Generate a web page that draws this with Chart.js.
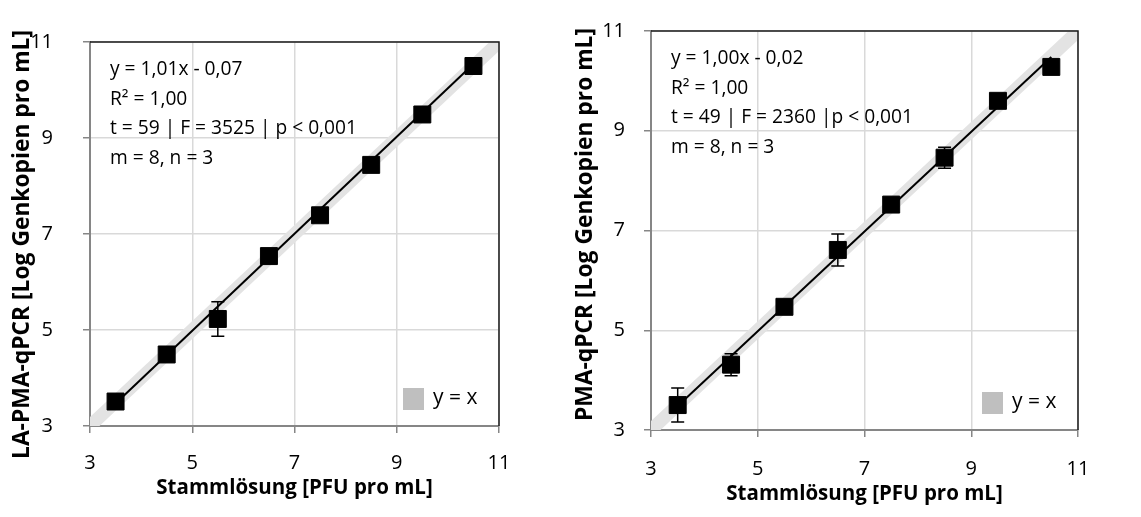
<!DOCTYPE html>
<html>
<head>
<meta charset="utf-8">
<script src="https://cdn.jsdelivr.net/npm/chart.js@4.4.1/dist/chart.umd.min.js"></script>
<style>
  body { margin: 0; background: #fff; width: 1141px; height: 517px; overflow: hidden; position: relative; }
  canvas { position: absolute; top: 0; }
  #laPmaChart { left: 0; }
  #pmaChart { left: 570px; }
</style>
</head>
<body>
<canvas id="laPmaChart" width="570" height="517"></canvas>
<canvas id="pmaChart" width="571" height="517"></canvas>
<script>
// Stammlösung log PFU per mL (x)
const stockLevels = [3.5, 4.5, 5.5, 6.5, 7.5, 8.5, 9.5, 10.5];

// LA-PMA-qPCR means and SD (log gene copies per mL)
const laPmaMeans = [3.51, 4.49, 5.23, 6.54, 7.39, 8.44, 9.49, 10.50];
const laPmaErrors = [0.05, 0.03, 0.36, 0.12, 0.04, 0.05, 0.03, 0.03];

// PMA-qPCR means and SD
const pmaMeans = [3.50, 4.31, 5.47, 6.61, 7.52, 8.46, 9.60, 10.28];
const pmaErrors = [0.34, 0.22, 0.04, 0.32, 0.05, 0.21, 0.04, 0.04];

// trendline end points (first and last stock level)
const laPmaTrend = [3.47, 10.54];
const pmaTrend = [3.48, 10.48];

// y = x reference
const identityLine = [3, 11];
const tickValues = [3, 5, 7, 9, 11];

const laPmaStats = ["y = 1,01x - 0,07", "R² = 1,00", "t = 59 | F = 3525 | p < 0,001", "m = 8, n = 3"];
const pmaStats = ["y = 1,00x - 0,02", "R² = 1,00", "t = 49 | F = 2360 |p < 0,001", "m = 8, n = 3"];

const FONT = "'Open Sans', sans-serif";

const decorPlugin = {
  id: "decor",
  afterDatasetsDraw(chart, args, opts) {
    const { ctx, scales: { x, y } } = chart;
    // error bars
    ctx.save();
    ctx.strokeStyle = "#000";
    ctx.lineWidth = 1.5;
    opts.means.forEach((m, i) => {
      const px = x.getPixelForValue(stockLevels[i]);
      const top = y.getPixelForValue(m + opts.errors[i]);
      const bot = y.getPixelForValue(m - opts.errors[i]);
      ctx.beginPath();
      ctx.moveTo(px, top); ctx.lineTo(px, bot);
      ctx.moveTo(px - 6.5, top); ctx.lineTo(px + 6.5, top);
      ctx.moveTo(px - 6.5, bot); ctx.lineTo(px + 6.5, bot);
      ctx.stroke();
    });
    ctx.restore();
  },
  afterDraw(chart, args, opts) {
    const { ctx, chartArea: a } = chart;
    ctx.save();
    // top and right frame
    ctx.strokeStyle = "#1a1a1a";
    ctx.lineWidth = 1.5;
    ctx.beginPath();
    ctx.moveTo(a.left, a.top); ctx.lineTo(a.right, a.top); ctx.lineTo(a.right, a.bottom);
    ctx.stroke();

    // statistics text
    ctx.fillStyle = "#000";
    ctx.font = "19.2px " + FONT;
    ctx.textBaseline = "middle";
    ctx.textAlign = "left";
    opts.stats.forEach((line, i) => {
      ctx.fillText(line, a.left + opts.statsDx, a.top + 28 + i * 29.5);
    });

    // legend for y = x
    const band = chart.data.datasets[0];
    ctx.fillStyle = "#bfbfbf";
    ctx.fillRect(a.right - 96, a.bottom - 38, 21, 22);
    ctx.fillStyle = "#000";
    ctx.font = "21px " + FONT;
    ctx.fillText(band.label, a.right - 66, a.bottom - 28);

    // y axis title
    ctx.font = "bold 22.8px " + FONT;
    ctx.translate(opts.titleX, opts.titleTop);
    ctx.rotate(-Math.PI / 2);
    ctx.textAlign = "right";
    ctx.fillText(opts.yTitle, 0, 0);
    ctx.restore();
  }
};

function makeChart(id, means, errors, trend, stats, yTitle, layout) {
  const points = stockLevels.map((v, i) => ({ x: v, y: means[i] }));
  const trendPts = [
    { x: stockLevels[0], y: trend[0] },
    { x: stockLevels[stockLevels.length - 1], y: trend[1] }
  ];
  const bandPts = identityLine.map(v => ({ x: v, y: v }));

  return new Chart(document.getElementById(id), {
    type: "scatter",
    data: {
      datasets: [
        {
          label: "y = x", data: bandPts, showLine: true, order: 3,
          borderColor: "#e3e3e3", borderWidth: 13, pointRadius: 0, borderCapStyle: "butt"
        },
        {
          label: "trend", data: trendPts, showLine: true, order: 2,
          borderColor: "#000", borderWidth: 2, pointRadius: 0
        },
        {
          label: "data", data: points, pointStyle: "rect", order: 1,
          pointRadius: 12, backgroundColor: "#000", borderColor: "#000", borderWidth: 1
        }
      ]
    },
    options: {
      responsive: false,
      animation: false,
      layout: { padding: { top: layout.top, right: layout.right, left: 0, bottom: 0 } },
      plugins: {
        legend: { display: false },
        tooltip: { enabled: false },
        decor: { means, errors, stats, yTitle, titleX: layout.titleX, titleTop: layout.titleTop, statsDx: layout.statsDx }
      },
      scales: {
        x: {
          type: "linear", min: 3, max: 11,
          afterBuildTicks: s => { s.ticks = tickValues.map(v => ({ value: v })); },
          afterFit: s => { s.height = layout.xHeight; },
          grid: { color: "#d9d9d9", lineWidth: 1.5, tickColor: "#868686", tickLength: 7 },
          border: { color: "#868686", width: 2 },
          ticks: { color: "#000", font: { family: FONT, size: 20 }, padding: layout.xTickPad },
          title: {
            display: true, text: "Stammlösung [PFU pro mL]", color: "#000",
            font: { family: FONT, size: 20.5, weight: "bold" },
            padding: { top: 0, bottom: layout.xTitlePad }
          }
        },
        y: {
          type: "linear", min: 3, max: 11,
          afterBuildTicks: s => { s.ticks = tickValues.map(v => ({ value: v })); },
          afterFit: s => { s.width = layout.yWidth; },
          grid: { color: "#d9d9d9", lineWidth: 1.5, tickColor: "#868686", tickLength: 7 },
          border: { color: "#868686", width: 2 },
          ticks: { color: "#000", font: { family: FONT, size: 20 }, padding: layout.yTickPad }
        }
      }
    },
    plugins: [decorPlugin]
  });
}

makeChart("laPmaChart", laPmaMeans, laPmaErrors, laPmaTrend, laPmaStats,
  "LA-PMA-qPCR [Log Genkopien pro mL]",
  { top: 19, right: 71, yWidth: 90, xHeight: 91, xTickPad: 18, xTitlePad: 17, yTickPad: 30, titleX: 23, titleTop: 30, statsDx: 20 });

makeChart("pmaChart", pmaMeans, pmaErrors, pmaTrend, pmaStats,
  "PMA-qPCR [Log Genkopien pro mL]",
  { top: 22, right: 63, yWidth: 81, xHeight: 87, xTickPad: 20, xTitlePad: 11, yTickPad: 19, titleX: 16, titleTop: 28, statsDx: 20 });
</script>
</body>
</html>
